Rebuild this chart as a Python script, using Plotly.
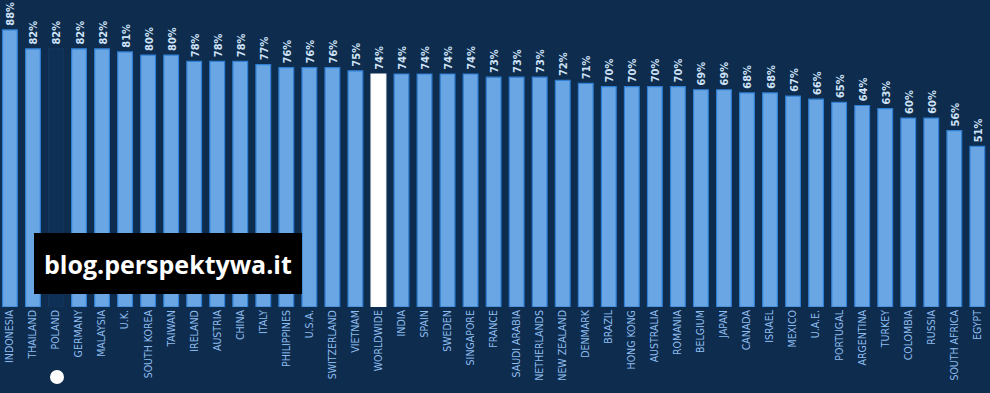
import plotly.graph_objects as go

countries = ["INDONESIA", "THAILAND", "POLAND", "GERMANY", "MALAYSIA", "U.K.", "SOUTH KOREA",
             "TAIWAN", "IRELAND", "AUSTRIA", "CHINA", "ITALY", "PHILIPPINES", "U.S.A.",
             "SWITZERLAND", "VIETNAM", "WORLDWIDE", "INDIA", "SPAIN", "SWEDEN", "SINGAPORE",
             "FRANCE", "SAUDI ARABIA", "NETHERLANDS", "NEW ZEALAND", "DENMARK", "BRAZIL",
             "HONG KONG", "AUSTRALIA", "ROMANIA", "BELGIUM", "JAPAN", "CANADA", "ISRAEL",
             "MEXICO", "U.A.E.", "PORTUGAL", "ARGENTINA", "TURKEY", "COLOMBIA", "RUSSIA",
             "SOUTH AFRICA", "EGYPT"]
values = [88, 82, 82, 82, 82, 81, 80, 80, 78, 78, 78, 77, 76, 76, 76, 75, 74, 74, 74, 74, 74,
          73, 73, 73, 72, 71, 70, 70, 70, 70, 69, 69, 68, 68, 67, 66, 65, 64, 63, 60, 60, 56, 51]
labels = [f"{v}%" for v in values]

BG = "#0e2c4e"
fills, lines = [], []
for c in countries:
    if c == "POLAND":
        fills.append("#0f3056"); lines.append("#13365e")
    elif c == "WORLDWIDE":
        fills.append("#ffffff"); lines.append("#ffffff")
    else:
        fills.append("#6aa6e4"); lines.append("#2f7fd4")

font_fam = "Liberation Sans Narrow, DejaVu Sans Condensed, Arial Narrow, sans-serif"

Y_MAX = 97.5

fig = go.Figure(go.Bar(
    x=countries, y=values,
    marker=dict(color=fills, line=dict(color=lines, width=1.2)),
    width=0.64, cliponaxis=False,
))

# value labels: rotated labels of invisible shapes placed just above each bar top
LABEL_LO, LABEL_HI = 1.6, 8.6  # offsets above the bar, in value units
for i, (v, t) in enumerate(zip(values, labels)):
    fig.add_shape(type="rect", xref="x", yref="y",
                  x0=i - 0.3, x1=i + 0.3,
                  y0=v + LABEL_LO, y1=v + LABEL_HI,
                  line=dict(width=0), fillcolor="rgba(0,0,0,0)",
                  label=dict(text=t, textangle=-90, textposition="middle center",
                             font=dict(size=11, color="#cfe3f8", family=font_fam,
                                       weight="bold")))

W, H = 990, 393
PB = 307
def px(x): return x / W
def py(y): return (PB - y) / PB

fig.add_shape(type="rect", xref="paper", yref="paper",
              x0=px(34), x1=px(302), y0=py(294), y1=py(233),
              fillcolor="#000000", line=dict(width=0))
fig.add_annotation(xref="paper", yref="paper", x=px(168), y=py(264),
                   xanchor="center", yanchor="middle",
                   text="<b>blog.perspektywa.it</b>", showarrow=False,
                   font=dict(size=25, color="#ffffff", family="Open Sans, sans-serif"))
fig.add_shape(type="circle", xref="paper", yref="paper",
              x0=px(50), x1=px(64), y0=py(384), y1=py(370),
              fillcolor="#ffffff", line=dict(width=0))

fig.update_layout(
    width=W, height=H,
    margin=dict(l=0, r=0, t=0, b=H - PB),
    paper_bgcolor=BG, plot_bgcolor=BG,
    showlegend=False,
    xaxis=dict(range=[-0.43, 42.55], tickangle=-90, showgrid=False, zeroline=False,
               showline=False, ticks="",
               tickfont=dict(size=10.5, color="#8fbdf0", family=font_fam)),
    yaxis=dict(range=[0, Y_MAX], visible=False, showgrid=False, zeroline=False),
)

fig.write_html("out.html", config={"displayModeBar": False},
               post_script="document.body.style.margin='0';document.body.style.background='%s';" % BG)
